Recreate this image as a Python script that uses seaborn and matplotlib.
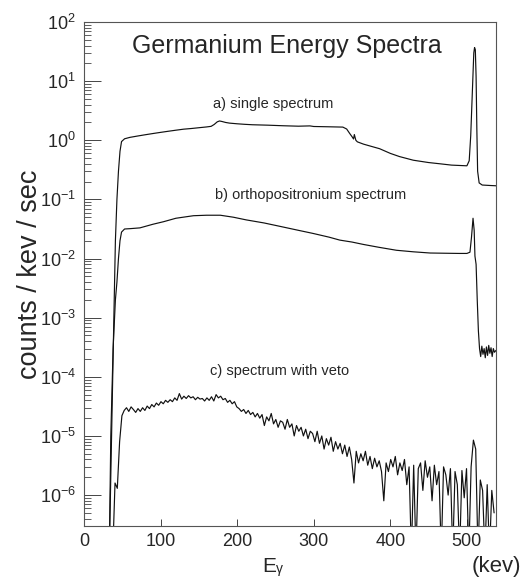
import numpy as np
import pandas as pd
import matplotlib
matplotlib.use("Agg")
import matplotlib.pyplot as plt
import matplotlib.ticker as mticker
import seaborn as sns

# ---------------- data ----------------
# a) single spectrum
a_energy = [31, 33, 36, 39, 41, 43, 45, 47, 49, 53, 60, 70, 80, 90, 100, 110, 120, 130, 140,
            150, 160, 166, 170, 174, 177, 180, 185, 190, 200, 210, 220, 240, 260, 280, 295,
            300, 320, 338, 343, 347, 350, 352, 353, 355, 357, 365, 375, 386, 400, 412, 430,
            450, 465, 480, 500, 503, 505, 507, 509, 510, 511, 512, 513, 514, 516, 520, 530, 538]
a_counts = [1e-7, 1e-7, 1e-5, 1e-3, 0.02, 0.1, 0.3, 0.65, 0.95, 1.06, 1.12, 1.18, 1.24, 1.3,
            1.36, 1.42, 1.48, 1.54, 1.58, 1.63, 1.68, 1.72, 1.85, 2.05, 2.12, 2.08, 2.0, 1.95,
            1.9, 1.86, 1.83, 1.8, 1.76, 1.73, 1.75, 1.71, 1.69, 1.67, 1.55, 1.3, 1.15, 1.05,
            1.25, 1.0, 0.94, 0.86, 0.79, 0.72, 0.6, 0.53, 0.46, 0.42, 0.4, 0.38, 0.37, 0.45,
            1.2, 6.0, 30.0, 37.0, 34.0, 12.0, 1.5, 0.3, 0.19, 0.175, 0.172, 0.17]

# b) orthopositronium spectrum
b_energy = [31, 33, 35, 38, 41, 43, 45, 47, 49, 53, 60, 73, 90, 104, 120, 143, 160, 178, 195,
            212, 235, 256, 280, 299, 320, 334, 350, 365, 385, 408, 430, 452, 470, 490, 500,
            504, 506, 508, 509.5, 510.5, 512, 513.5, 515, 516.5, 518, 519.5, 521, 522.5,
            524, 525.5, 527, 528.5, 530, 531.5, 533, 534.5, 536, 538]
b_counts = [1e-7, 1e-7, 1e-5, 3e-4, 2e-3, 4e-3, 0.01, 0.02, 0.028, 0.0316, 0.032, 0.033,
            0.038, 0.042, 0.048, 0.053, 0.054, 0.054, 0.05, 0.045, 0.04, 0.035, 0.030,
            0.0266, 0.023, 0.0205, 0.019, 0.0173, 0.0155, 0.0138, 0.013, 0.0124, 0.0123,
            0.0122, 0.0122, 0.0128, 0.023, 0.048, 0.03, 0.011, 0.008, 0.002, 6e-4, 3e-4,
            2.2e-4, 3.3e-4, 2.4e-4, 3.0e-4, 2.1e-4, 3.2e-4, 2.3e-4, 3.4e-4, 2.5e-4, 3.1e-4,
            2.2e-4, 3.0e-4, 2.6e-4, 2.8e-4]

# c) spectrum with veto : 3 keV bins starting at 36 keV, counts in units of 1e-6
c_bin_start = 36
c_bin_width = 3
c_counts_e6 = [
    0.1, 1.6, 1.3, 8, 22, 27, 30, 26, 31, 28, 25, 29, 26, 30, 27, 32, 29, 34, 31, 36,
    33, 38, 35, 40, 37, 41, 38, 44, 40, 52, 42, 47, 43, 48, 44, 46, 41, 45, 42, 43,
    39, 44, 40, 46, 39, 50, 44, 47, 41, 43, 37, 40, 35, 38, 31, 29, 26, 28, 24, 27,
    23, 25, 21, 24, 20, 23, 15, 21, 18, 24, 16, 19, 14, 18, 17, 13, 19, 14, 16, 10,
    15, 12, 14, 10, 13, 9, 12, 11, 8, 12, 7.5, 10, 6, 9, 7, 9.5, 5.5, 8, 6, 7.5,
    5, 7, 4.5, 6.5, 4, 1.6, 5.5, 3.5, 5, 3.8, 5.5, 3.2, 4.5, 2.8, 4.2, 3, 3.8, 2.5,
    0.8, 3.5, 2.5, 4, 3, 4.5, 2.2, 3.5, 2.6, 4, 1.5, 3, 0.1, 3.2, 0.1, 2.8, 3.5, 1.2,
    3.8, 2, 3, 0.8, 3.2, 1.5, 2.5, 0.1, 3, 2.2, 1, 2.8, 0.1, 2.5, 1.5, 0.1, 2.6, 0.9,
    2.8, 0.1, 3, 8.5, 6, 0.1, 1.8, 1.2, 0.1, 1.5, 0.1, 1.2, 0.5]

x_ticks = [0, 100, 200, 300, 400, 500]
title_text = "Germanium Energy Spectra"
label_a = "a) single spectrum"
label_b = "b) orthopositronium spectrum"
label_c = "c) spectrum with veto"

# ---------------- tables ----------------
df_a = pd.DataFrame({"E": a_energy, "counts": a_counts})
df_b = pd.DataFrame({"E": b_energy, "counts": b_counts})
c_energy = [c_bin_start + c_bin_width * (i + 0.5) for i in range(len(c_counts_e6))]
df_c = pd.DataFrame({"E": c_energy, "counts": np.array(c_counts_e6) * 1e-6})

# ---------------- style ----------------
sns.set_style("white")
plt.rcParams["font.family"] = ["Liberation Sans", "DejaVu Sans"]
plt.rcParams["mathtext.fontset"] = "custom"
plt.rcParams["mathtext.rm"] = "Liberation Sans"
plt.rcParams["mathtext.it"] = "Liberation Sans:italic"
plt.rcParams["mathtext.bf"] = "Liberation Sans:bold"

W, H = 523, 580
fig = plt.figure(figsize=(W / 100, H / 100), dpi=100)
ax = fig.add_axes([84 / W, 1 - 526 / H, (496 - 84) / W, (526 - 22) / H])

line_kw = dict(color="#111111", linewidth=0.85, estimator=None, sort=False, legend=False)
sns.lineplot(data=df_a, x="E", y="counts", ax=ax, **line_kw)
sns.lineplot(data=df_b, x="E", y="counts", ax=ax, **line_kw)
sns.lineplot(data=df_c, x="E", y="counts", ax=ax, **line_kw)

ax.set_yscale("log")
ax.set_xlim(0, 538)
ax.set_ylim(3.0e-7, 100)

ax.yaxis.set_major_locator(mticker.LogLocator(base=10, numticks=20))
ax.yaxis.set_minor_locator(mticker.LogLocator(base=10, subs=np.arange(2, 10), numticks=20))
ax.yaxis.set_major_formatter(mticker.LogFormatterMathtext())
ax.yaxis.set_minor_formatter(mticker.NullFormatter())
ax.set_xticks(x_ticks)
ax.xaxis.set_minor_locator(mticker.NullLocator())

ax.tick_params(axis="y", which="major", direction="in", length=12, width=0.7,
               color="#444444", left=True, right=False, labelsize=13, pad=6)
ax.tick_params(axis="y", which="minor", direction="in", length=5, width=0.6,
               color="#444444", left=True, right=False)
ax.tick_params(axis="x", which="major", direction="in", length=5, width=0.7,
               color="#444444", bottom=True, top=False, labelsize=13, pad=5)

for s in ax.spines.values():
    s.set_color("#555555")
    s.set_linewidth(0.8)

ax.set_xlabel(None)
ax.xaxis.label.set_visible(False)
ax.set_ylabel("counts / kev / sec", fontsize=19.5)
ax.yaxis.set_label_coords(-0.1, 0.5)

# ---------------- texts ----------------
fig.text(286.5 / W, 1 - 53 / H, title_text, fontsize=18, ha="center", va="baseline")
fig.text(273 / W, 1 - 108 / H, label_a, fontsize=10.5, ha="center", va="baseline")
fig.text(311 / W, 1 - 199 / H, label_b, fontsize=10.5, ha="center", va="baseline")
fig.text(280 / W, 1 - 375 / H, label_c, fontsize=10.5, ha="center", va="baseline")
fig.text(262 / W, 1 - 572 / H, "E", fontsize=15, ha="left", va="baseline")
fig.text(276 / W, 1 - 573 / H, "γ", fontsize=10, ha="left", va="baseline")
fig.text(521 / W, 1 - 572 / H, "(kev)", fontsize=16, ha="right", va="baseline")

fig.savefig("out.png", dpi=100)
